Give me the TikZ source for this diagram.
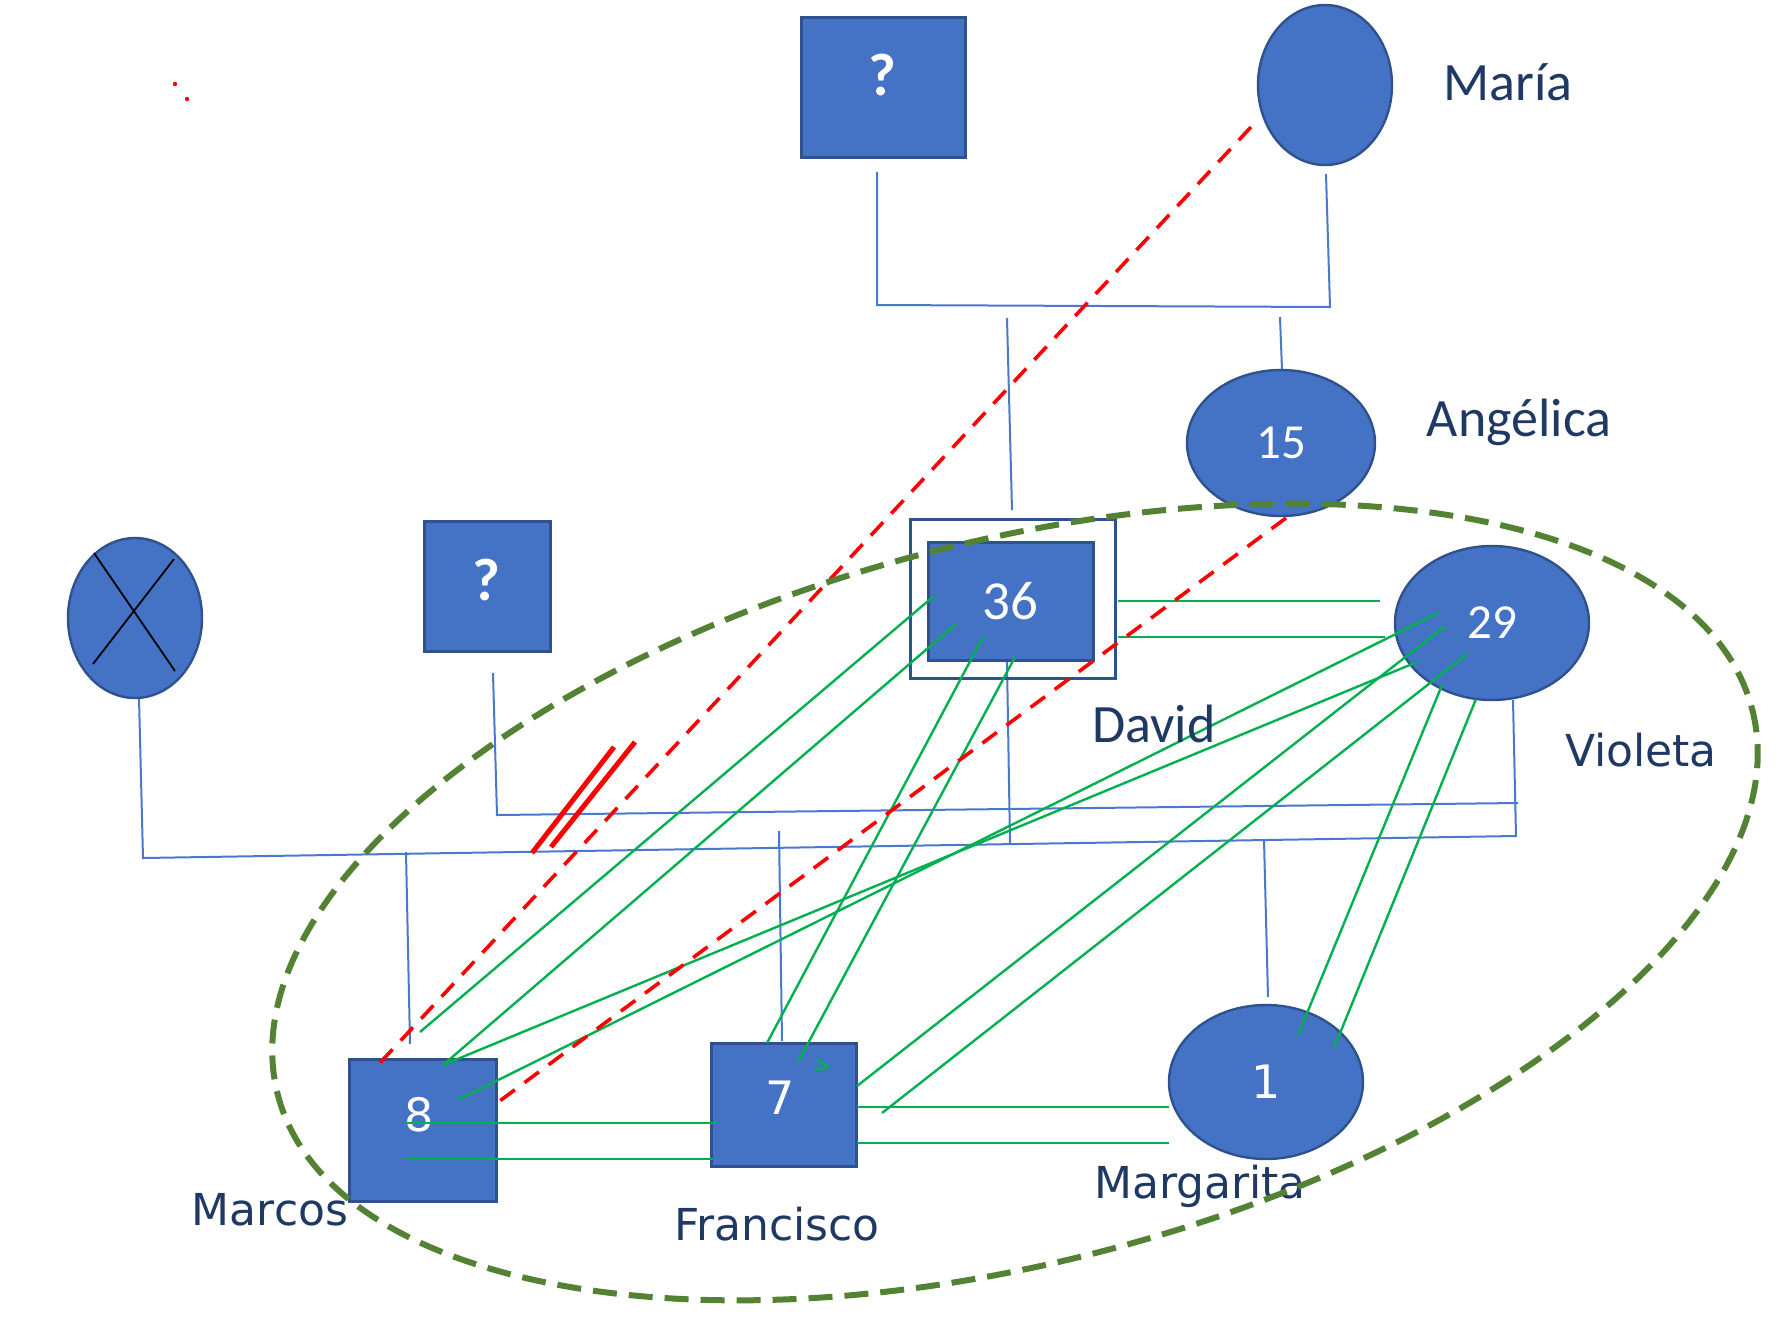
\documentclass[tikz,border=0pt]{standalone}
\usepackage{fontspec}
\setmainfont{DejaVu Sans}
\newfontfamily\calib{Carlito}
\newfontfamily\dejavu{DejaVu Sans}
\usetikzlibrary{shapes.geometric}
\definecolor{fillblue}{HTML}{4472C4}
\definecolor{edgeblue}{HTML}{2F528F}
\definecolor{lineblue}{HTML}{4A78CC}
\definecolor{relgreen}{HTML}{00B050}
\definecolor{grpgreen}{HTML}{548235}
\definecolor{navy}{HTML}{1F3864}
\definecolor{redc}{HTML}{FF0000}
\begin{document}
\begin{tikzpicture}[x=0.5pt,y=-0.5pt,
  sq/.style={rectangle, draw=edgeblue, fill=fillblue, line width=1.5pt, inner sep=0pt},
  ovl/.style={ellipse, draw=edgeblue, fill=fillblue, line width=1.2pt, inner sep=0pt},
  num/.style={text=white, inner sep=0pt},
  lbl/.style={text=navy, inner sep=0pt, anchor=base},
  kin/.style={draw=lineblue, line width=1pt},
  rel/.style={draw=relgreen, line width=1.2pt},
  conflict/.style={draw=redc, line width=1.8pt, dash pattern=on 9pt off 6pt},
  cut/.style={draw=redc, line width=2.5pt},
  grp/.style={draw=grpgreen, line width=3pt, dash pattern=on 12pt off 6pt}
]
\useasboundingbox (0,0) rectangle (1790,1330);

% ---------- coordinates for kinship lines ----------
\coordinate (q1d) at (877,172);   \coordinate (q1h) at (877,305);
\coordinate (mad) at (1326,174);  \coordinate (mah) at (1330,307);
\coordinate (dvu) at (1007,318);  \coordinate (dvt) at (1012,510);
\coordinate (anu) at (1280,317);  \coordinate (ant) at (1282,370);
\coordinate (q2d) at (493,673);   \coordinate (q2h) at (497,815);
\coordinate (upr) at (1518,803);
\coordinate (xd) at (139,698);    \coordinate (xh) at (143,858);
\coordinate (lwr) at (1516,836);
\coordinate (vid) at (1513,700);
\coordinate (dvb) at (1007,662);  \coordinate (dvh) at (1010,843);
\coordinate (mch) at (406,852);   \coordinate (mct) at (410,1044);
\coordinate (frh) at (779,831);   \coordinate (frt) at (782,1041);
\coordinate (mgh) at (1264,840);  \coordinate (mgt) at (1268,997);

\draw[kin] (q1d) -- (q1h) -- (mah) -- (mad);
\draw[kin] (dvu) -- (dvt);
\draw[kin] (anu) -- (ant);
\draw[kin] (q2d) -- (q2h) -- (upr);
\draw[kin] (xd) -- (xh) -- (lwr) -- (vid);
\draw[kin] (dvb) -- (dvh);
\draw[kin] (mch) -- (mct);
\draw[kin] (frh) -- (frt);
\draw[kin] (mgh) -- (mgt);

% ---------- people ----------
\node[sq, minimum width=82pt, minimum height=70pt] (q1) at (883,87) {};
\node[num, font={\calib\bfseries\fontsize{30}{32}\selectfont}] (q1t) at (882,75) {?};
\node[ovl, minimum width=67pt, minimum height=80pt] (maria) at (1325,85) {};
\node[ovl, minimum width=94pt, minimum height=73pt, text=white, font={\calib\fontsize{24.5}{26}\selectfont}] (ang) at (1281,443) {15};
\node[rectangle, draw=edgeblue, line width=1.5pt, minimum width=102.5pt, minimum height=79.5pt, inner sep=0pt] (dvout) at (1012.5,598.5) {};
\node[sq, minimum width=82.5pt, minimum height=59pt, text=white, font={\calib\fontsize{27.5}{30}\selectfont}] (david) at (1010.5,601) {36};
\node[ovl, minimum width=97pt, minimum height=77pt, text=white, font={\calib\fontsize{24.5}{26}\selectfont}] (vio) at (1492,623) {29};
\node[ovl, minimum width=67pt, minimum height=80pt] (xed) at (135,618) {};
\coordinate (xa) at (94,553); \coordinate (xb) at (175,671);
\coordinate (xc) at (174,559); \coordinate (xe) at (93,664);
\draw[black, line width=0.9pt] (xa) -- (xb) (xc) -- (xe);
\node[sq, minimum width=63pt, minimum height=65pt] (q2) at (487,586) {};
\node[num, font={\calib\bfseries\fontsize{30}{32}\selectfont}] (q2t) at (486,580) {?};
\node[sq, minimum width=73.5pt, minimum height=71pt] (marcos) at (422.5,1130) {};
\node[num, font={\dejavu\fontsize{23}{25}\selectfont}] (marcost) at (419,1115) {8};
\node[sq, minimum width=72.5pt, minimum height=61.5pt] (fran) at (783.5,1104.5) {};
\node[num, font={\dejavu\fontsize{23}{25}\selectfont}] (frant) at (780,1098) {7};
\node[ovl, minimum width=97pt, minimum height=77pt, text=white, font={\dejavu\fontsize{23}{25}\selectfont}] (marg) at (1266,1082) {1};

% ---------- relationship (green) lines ----------
\coordinate (g1a) at (1118,601); \coordinate (g1b) at (1380,601);
\coordinate (g2a) at (1118,637); \coordinate (g2b) at (1385,637);
\coordinate (g3a) at (934,596);  \coordinate (g3b) at (420,1032);
\coordinate (g4a) at (956,624);  \coordinate (g4b) at (443,1065);
\coordinate (g5a) at (983,637);  \coordinate (g5b) at (767,1043);
\coordinate (g6a) at (1015,657); \coordinate (g6b) at (798,1062);
\coordinate (g7a) at (1438,613); \coordinate (g7b) at (458,1100);
\coordinate (g8a) at (1417,662); \coordinate (g8b) at (443,1065);
\coordinate (g9a) at (1445,626); \coordinate (g9b) at (857,1086);
\coordinate (g10a) at (1467,654); \coordinate (g10b) at (882,1113);
\coordinate (g11a) at (1442,685); \coordinate (g11b) at (1298,1035);
\coordinate (g12a) at (1476,699); \coordinate (g12b) at (1334,1048);
\coordinate (g13a) at (405,1123); \coordinate (g13b) at (717,1123);
\coordinate (g14a) at (405,1159); \coordinate (g14b) at (713,1159);
\coordinate (g15a) at (857,1107); \coordinate (g15b) at (1169,1107);
\coordinate (g16a) at (857,1143); \coordinate (g16b) at (1169,1143);
\coordinate (chA) at (817,1059); \coordinate (chB) at (828,1067); \coordinate (chC) at (815,1070);
\foreach \i in {1,...,16} { \draw[rel] (g\i a) -- (g\i b); }
\draw[rel] (chA) -- (chB) -- (chC);

% ---------- conflict (red) ----------
\coordinate (r1a) at (1251,127); \coordinate (r1b) at (377,1066);
\coordinate (r2a) at (1286,518); \coordinate (r2b) at (497,1103);
\draw[conflict] (r1a) -- (r1b);
\draw[conflict] (r2a) -- (r2b);
\coordinate (s1a) at (532,853); \coordinate (s1b) at (614,747);
\coordinate (s2a) at (551,847); \coordinate (s2b) at (635,742);
\draw[cut] (s1a) -- (s1b);
\draw[cut] (s2a) -- (s2b);
\fill[redc] (175,84) circle (2.2);
\fill[redc] (187,99) circle (2.2);

% ---------- labels ----------
\node[lbl, font={\calib\fontsize{27}{30}\selectfont}] (lmaria) at (1508,100) {María};
\node[lbl, font={\calib\fontsize{27}{30}\selectfont}] (lang) at (1519,436) {Angélica};
\node[lbl, font={\calib\fontsize{27}{30}\selectfont}] (ldavid) at (1154,742) {David};
\node[lbl, font={\dejavu\fontsize{22}{25}\selectfont}] (lvio) at (1641,766) {Violeta};
\node[lbl, font={\dejavu\fontsize{22}{25}\selectfont}] (lmarcos) at (270,1225) {Marcos};
\node[lbl, font={\dejavu\fontsize{22}{25}\selectfont}] (lfran) at (777,1240) {Francisco};
\node[lbl, font={\dejavu\fontsize{22}{25}\selectfont}] (lmarg) at (1200,1198) {Margarita};

% ---------- household group ----------
\coordinate (gc) at (1015,902);
\draw[grp, rotate around={14.7:(gc)}] (gc) ellipse [x radius=762, y radius=360];
\end{tikzpicture}
\end{document}
